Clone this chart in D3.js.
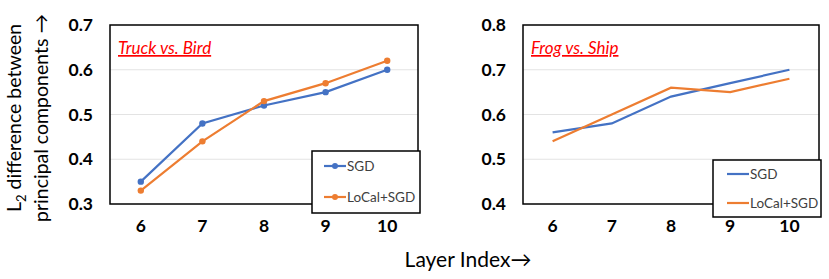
<!DOCTYPE html>
<html>
<head>
<meta charset="utf-8">
<script src="https://cdn.jsdelivr.net/npm/d3@7"></script>
<style>
  body { margin: 0; background: #fff; }
  svg { display: block; font-family: Lato, "Open Sans", sans-serif; }
</style>
</head>
<body>
<div class="chart"></div>
<script>
const layers = [6, 7, 8, 9, 10];

const truckSGD = [0.35, 0.48, 0.52, 0.55, 0.60];
const truckLoCal = [0.33, 0.44, 0.53, 0.57, 0.62];
const truckTicks = [0.3, 0.4, 0.5, 0.6, 0.7];

const frogSGD = [0.56, 0.58, 0.64, 0.67, 0.70];
const frogLoCal = [0.54, 0.60, 0.66, 0.65, 0.68];
const frogTicks = [0.4, 0.5, 0.6, 0.7, 0.8];

const seriesNames = ["SGD", "LoCal+SGD"];
const blue = "#4472c4";
const orange = "#ed7d31";

const width = 829, height = 279;

const svg = d3.select(".chart")
  .append("svg")
    .attr("width", width)
    .attr("height", height);

const panel = (opts) => {
  const {left, right, top, bottom, ticks, series, title, markers, legend} = opts;

  const x = d3.scaleBand()
    .domain(layers)
    .range([left, right]);

  const y = d3.scaleLinear()
    .domain(d3.extent(ticks))
    .range([bottom, top]);

  const g = svg.append("g");

  // gridlines
  g.append("g")
    .selectAll("line")
    .data(ticks.slice(1, -1))
    .join("line")
      .attr("x1", left)
      .attr("x2", right)
      .attr("y1", d => y(d))
      .attr("y2", d => y(d))
      .attr("stroke", "#e3e3e3")
      .attr("stroke-width", 1);

  // y axis labels
  g.append("g")
    .attr("transform", `translate(${left}, 0)`)
    .call(d3.axisLeft(y).tickValues(ticks).tickFormat(d3.format(".1f")).tickSize(0).tickPadding(17))
    .call(g => g.select(".domain").remove())
    .call(g => g.selectAll("text")
      .attr("font-size", 17.5)
      .attr("font-weight", "bold")
      .attr("font-family", "Lato, sans-serif")
      .attr("fill", "#000"));

  // x axis labels
  g.append("g")
    .attr("transform", `translate(0, ${bottom})`)
    .call(d3.axisBottom(x).tickSize(0).tickPadding(16))
    .call(g => g.select(".domain").remove())
    .call(g => g.selectAll("text")
      .attr("font-size", 17.5)
      .attr("font-weight", "bold")
      .attr("font-family", "Lato, sans-serif")
      .attr("fill", "#000"));

  // plot frame
  g.append("rect")
    .attr("x", left)
    .attr("y", top)
    .attr("width", right - left)
    .attr("height", bottom - top)
    .attr("fill", "none")
    .attr("stroke", "#000")
    .attr("stroke-width", 1.5);

  const line = d3.line()
    .x((d, i) => x(layers[i]) + x.bandwidth() / 2)
    .y(d => y(d));

  series.forEach((s, k) => {
    const color = k === 0 ? blue : orange;
    g.append("path")
      .datum(s)
      .attr("fill", "none")
      .attr("stroke", color)
      .attr("stroke-width", 2.2)
      .attr("d", line);
    if (markers) {
      g.append("g")
        .selectAll("circle")
        .data(s)
        .join("circle")
          .attr("cx", (d, i) => x(layers[i]) + x.bandwidth() / 2)
          .attr("cy", d => y(d))
          .attr("r", 3.2)
          .attr("fill", color);
    }
  });

  // title
  g.append("text")
    .attr("x", left + 8)
    .attr("y", top + 29)
    .attr("fill", "#ff0000")
    .attr("font-size", 17)
    .attr("font-style", "italic")
    .attr("text-decoration", "underline")
    .attr("font-family", "Lato, sans-serif")
    .text(title);

  // legend
  const lg = g.append("g");
  lg.append("rect")
    .attr("x", legend.x)
    .attr("y", legend.y)
    .attr("width", legend.w)
    .attr("height", legend.h)
    .attr("fill", "#fff")
    .attr("stroke", "#000")
    .attr("stroke-width", 1.5);

  seriesNames.forEach((name, k) => {
    const color = k === 0 ? blue : orange;
    const cy = legend.y + legend.rows[k];
    lg.append("line")
      .attr("x1", legend.x + legend.lx)
      .attr("x2", legend.x + legend.lx + 22)
      .attr("y1", cy)
      .attr("y2", cy)
      .attr("stroke", color)
      .attr("stroke-width", 2.2);
    if (markers) {
      lg.append("circle")
        .attr("cx", legend.x + legend.lx + 11)
        .attr("cy", cy)
        .attr("r", 3)
        .attr("fill", color);
    }
    lg.append("text")
      .attr("x", legend.x + legend.lx + 23)
      .attr("y", cy)
      .attr("dy", "0.36em")
      .attr("font-size", 13.5)
      .attr("fill", "#404040")
      .attr("font-family", "Lato, sans-serif")
      .text(name);
  });
};

panel({
  left: 110, right: 418, top: 25, bottom: 204,
  ticks: truckTicks,
  series: [truckSGD, truckLoCal],
  title: "Truck vs. Bird",
  markers: true,
  legend: {x: 312, y: 151, w: 108, h: 62, lx: 12, rows: [15, 46]}
});

panel({
  left: 523, right: 819, top: 25, bottom: 204,
  ticks: frogTicks,
  series: [frogSGD, frogLoCal],
  title: "Frog vs. Ship",
  markers: false,
  legend: {x: 713, y: 160, w: 108, h: 57, lx: 14, rows: [14, 43]}
});

// y axis title
const yt = svg.append("text")
  .attr("transform", "translate(0, 118) rotate(-90)")
  .attr("text-anchor", "middle")
  .attr("font-size", 19.5)
  .attr("fill", "#000")
  .attr("font-family", "Lato, sans-serif");
yt.append("tspan")
  .attr("x", 0)
  .attr("y", 21)
  .text("L");
yt.append("tspan")
  .attr("font-size", 13)
  .attr("dy", 5)
  .text("2");
yt.append("tspan")
  .attr("dy", -5)
  .text(" difference between");
yt.append("tspan")
  .attr("x", 0)
  .attr("y", 48)
  .text("principal components \u2192");

// x axis title
svg.append("text")
  .attr("x", 468)
  .attr("y", 267)
  .attr("text-anchor", "middle")
  .attr("font-size", 21)
  .attr("fill", "#000")
  .attr("font-family", "Lato, sans-serif")
  .text("Layer Index\u2192");
</script>
</body>
</html>
